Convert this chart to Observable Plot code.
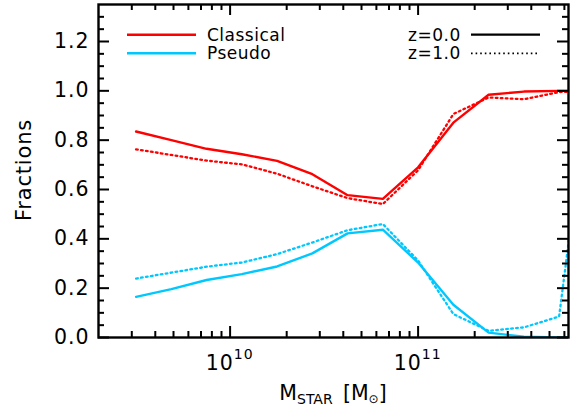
<!DOCTYPE html>
<html>
<head>
<meta charset="utf-8">
<script src="https://cdn.jsdelivr.net/npm/d3@7"></script>
<script src="https://cdn.jsdelivr.net/npm/@observablehq/plot@0.6"></script>
<style>
  body { margin: 0; background: #fff; }
  #chart { position: relative; width: 574px; height: 412px; }
  #chart svg { font-family: "DejaVu Sans", sans-serif; }
</style>
</head>
<body>
<div id="chart"></div>
<script>
// Bulge-type fractions versus stellar mass, in bins of log10(M*/Msun)
const logMass = [9.5, 9.6875, 9.875, 10.0625, 10.25, 10.4375, 10.625, 10.8125, 11.0, 11.1875, 11.375, 11.5625, 11.75, 11.9375];
const classicalZ0 = [0.835, 0.800, 0.765, 0.743, 0.716, 0.662, 0.577, 0.562, 0.690, 0.871, 0.984, 0.997, 1.000, 1.000];
const classicalZ1 = [0.763, 0.740, 0.717, 0.702, 0.664, 0.613, 0.565, 0.541, 0.678, 0.906, 0.973, 0.966, 0.995, 1.000];
const pseudoZ0    = [0.165, 0.196, 0.233, 0.257, 0.288, 0.341, 0.422, 0.437, 0.304, 0.133, 0.020, 0.003, 0.000, 0.000];
const pseudoZ1    = [0.239, 0.263, 0.287, 0.304, 0.338, 0.385, 0.435, 0.460, 0.312, 0.095, 0.027, 0.041, 0.085, 1.200];

const bulgeTypes = ["Classical", "Pseudo"];
const bulgeColors = ["#ff0000", "#00c8ff"];
const epochs = ["z=0.0", "z=1.0"];

// Axis ticks
const xMajorTicks = [1e10, 1e11];
const xMinorTicks = [3e9, 4e9, 5e9, 6e9, 7e9, 8e9, 9e9,
                     2e10, 3e10, 4e10, 5e10, 6e10, 7e10, 8e10, 9e10,
                     2e11, 3e11, 4e11, 5e11, 6e11];
const xTickExponents = ["10", "11"];
const yMajorTicks = [0.0, 0.2, 0.4, 0.6, 0.8, 1.0, 1.2];
const yMinorTicks = [0.05, 0.10, 0.15, 0.25, 0.30, 0.35, 0.45, 0.50, 0.55, 0.65, 0.70, 0.75,
                     0.85, 0.90, 0.95, 1.05, 1.10, 1.15, 1.25, 1.30];

// Long-format rows for the lines
const rows = [];
const series = [
  {type: "Classical", epoch: "z=0.0", values: classicalZ0},
  {type: "Classical", epoch: "z=1.0", values: classicalZ1},
  {type: "Pseudo", epoch: "z=0.0", values: pseudoZ0},
  {type: "Pseudo", epoch: "z=1.0", values: pseudoZ1}
];
for (const s of series) {
  logMass.forEach((lm, i) => rows.push({mass: Math.pow(10, lm), frac: s.values[i], type: s.type, epoch: s.epoch}));
}

const W = 574, H = 412;
const mL = 98, mR = 6, mT = 4, mB = 75;
const innerW = W - mL - mR, innerH = H - mT - mB;
const majorLen = 11, minorLen = 6;

const plot = Plot.plot({
  width: W,
  height: H,
  marginLeft: mL,
  marginRight: mR,
  marginTop: mT,
  marginBottom: mB,
  style: {background: "#fff", color: "#000", fontFamily: "DejaVu Sans, sans-serif"},
  x: {type: "log", domain: [Math.pow(10, 9.3), Math.pow(10, 11.8)]},
  y: {domain: [0, 1.35]},
  color: {domain: bulgeTypes, range: bulgeColors},
  marks: [
    Plot.line(rows.filter(d => d.epoch === epochs[1]), {
      x: "mass", y: "frac", stroke: "type", z: "type",
      strokeWidth: 2.3, strokeDasharray: "1.7,3.3", clip: true
    }),
    Plot.line(rows.filter(d => d.epoch === epochs[0]), {
      x: "mass", y: "frac", stroke: "type", z: "type",
      strokeWidth: 2.4, clip: true
    }),
    // inward ticks on all four sides
    Plot.tickX(xMajorTicks, {x: d => d, insetTop: innerH - majorLen, strokeWidth: 2}),
    Plot.tickX(xMajorTicks, {x: d => d, insetBottom: innerH - majorLen, strokeWidth: 2}),
    Plot.tickX(xMinorTicks, {x: d => d, insetTop: innerH - minorLen, strokeWidth: 2}),
    Plot.tickX(xMinorTicks, {x: d => d, insetBottom: innerH - minorLen, strokeWidth: 2}),
    Plot.tickY(yMajorTicks, {y: d => d, insetRight: innerW - majorLen, strokeWidth: 2}),
    Plot.tickY(yMajorTicks, {y: d => d, insetLeft: innerW - majorLen, strokeWidth: 2}),
    Plot.tickY(yMinorTicks, {y: d => d, insetRight: innerW - minorLen, strokeWidth: 2}),
    Plot.tickY(yMinorTicks, {y: d => d, insetLeft: innerW - minorLen, strokeWidth: 2}),
    Plot.frame({stroke: "#000", strokeWidth: 2.4}),
    Plot.axisY(yMajorTicks, {
      tickSize: 0, tickPadding: 9, fontSize: 20.5,
      tickFormat: d3.format(".1f"), label: null
    }),
    Plot.axisX([], {label: null})
  ]
});

document.getElementById("chart").appendChild(plot);

const svg = d3.select(plot);
svg.selectAll("g[aria-label='y-axis tick label'] text").attr("letter-spacing", 1);

// x tick labels as powers of ten, placed with the plot's own x scale
const xs = plot.scale("x");
xMajorTicks.forEach((v, i) => {
  const t = svg.append("text")
    .attr("x", xs.apply(v))
    .attr("y", 370)
    .attr("text-anchor", "middle")
    .attr("font-size", 20.5)
    .attr("letter-spacing", 1)
    .attr("fill", "#000");
  t.append("tspan").text("10");
  t.append("tspan").attr("dy", -11).attr("font-size", 14).text(xTickExponents[i]);
});

// axis titles
const xt = svg.append("text")
  .attr("x", 333)
  .attr("y", 400)
  .attr("text-anchor", "middle")
  .attr("font-size", 20.5)
  .attr("fill", "#000");
xt.append("tspan").text("M");
xt.append("tspan").attr("dy", 4).attr("font-size", 14).text("STAR");
xt.append("tspan").attr("dy", -4).text("\u2002[M");
xt.append("tspan").attr("dy", 3).attr("font-size", 12).text("\u2299");
xt.append("tspan").attr("dy", -3).text("]");

svg.append("text")
  .attr("transform", "translate(24,170) rotate(-90)")
  .attr("text-anchor", "middle")
  .attr("dominant-baseline", "central")
  .attr("font-size", 21)
  .attr("letter-spacing", 0.8)
  .attr("fill", "#000")
  .text("Fractions");

// legend: bulge type (colour) and redshift (line style)
const legendRowsY = [34.7, 53.3];
bulgeTypes.forEach((name, i) => {
  svg.append("line")
    .attr("x1", 127).attr("x2", 196)
    .attr("y1", legendRowsY[i]).attr("y2", legendRowsY[i])
    .attr("stroke", bulgeColors[i]).attr("stroke-width", 2.4);
  svg.append("text")
    .attr("x", 207).attr("y", legendRowsY[i] + 6)
    .attr("text-anchor", "start")
    .attr("font-size", 17).attr("letter-spacing", 0.5)
    .attr("fill", "#000").text(name);
});
epochs.forEach((name, i) => {
  svg.append("text")
    .attr("x", 408).attr("y", legendRowsY[i] + 6)
    .attr("text-anchor", "start")
    .attr("font-size", 17).attr("letter-spacing", 0.5)
    .attr("fill", "#000").text(name);
  svg.append("line")
    .attr("x1", 471).attr("x2", 540)
    .attr("y1", legendRowsY[i]).attr("y2", legendRowsY[i])
    .attr("stroke", "#000")
    .attr("stroke-width", i === 0 ? 2.2 : 1.8)
    .attr("stroke-dasharray", i === 0 ? null : "1.6,3");
});
</script>
</body>
</html>
